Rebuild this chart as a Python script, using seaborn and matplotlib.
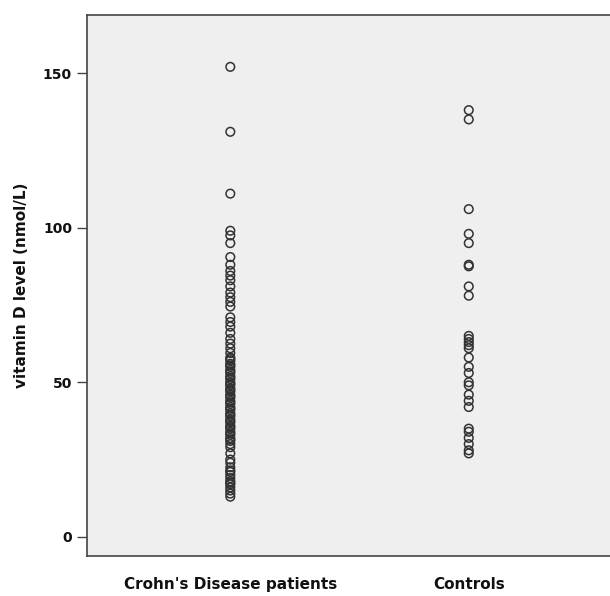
import matplotlib
matplotlib.use("Agg")
import matplotlib.pyplot as plt
import seaborn as sns
import pandas as pd

categories = ["Crohn's Disease patients", "Controls"]

crohns_values = [152, 131, 111, 99, 97.5, 95, 90.5, 88, 86, 84.5, 83, 81, 79, 77.5, 76,
                 74.5, 71, 69.5, 68, 66, 64, 62.5, 61, 59.5, 58, 57.5, 57, 56, 55.5, 55,
                 54, 53.5, 53, 52, 51.5, 51, 50, 49.5, 49, 48, 47.5, 47, 46, 45.5, 45,
                 44, 43.5, 43, 42, 41.5, 41, 40, 39.5, 39, 38, 37.5, 37, 36, 35.5, 35,
                 34, 33.5, 33, 32, 31.5, 31, 30, 29, 27, 25, 24, 22.5, 21.5, 21, 20, 19,
                 18, 17.5, 17, 16, 15, 14, 13]

controls_values = [138, 135, 106, 98, 95, 88, 87.5, 81, 78, 65, 64, 63, 62, 61, 58, 55, 53,
                   50, 49, 46, 44, 42, 35, 34, 32, 30, 28, 27]

y_ticks = [0, 50, 100, 150]
y_label = "vitamin D level (nmol/L)"

df = pd.DataFrame({
    "group": [categories[0]] * len(crohns_values) + [categories[1]] * len(controls_values),
    "value": crohns_values + controls_values,
})

sns.set_style("white")
plt.rcParams["font.family"] = ["DejaVu Sans"]

fig = plt.figure(figsize=(6.10, 5.96), dpi=100)
ax = fig.add_axes([0.143, 0.067, 0.86, 0.908])
ax.set_facecolor("#efefef")

sns.stripplot(data=df, x="group", y="value", order=categories, jitter=False,
              marker="o", size=6.2, linewidth=1.1, color="#333333", ax=ax)
for coll in ax.collections:
    coll.set_facecolor("none")
    coll.set_edgecolor("#333333")
    coll.set_linewidth(1.1)

ax.set_xlim(-0.6, 1.6)
ax.set_ylim(-6.2, 168.8)
ax.set_yticks(y_ticks)
ax.set_yticklabels([str(t) for t in y_ticks], fontsize=10, fontweight="bold", color="#111111")
ax.tick_params(axis="y", direction="out", length=7, width=1, color="#444444", pad=4, left=True)
ax.tick_params(axis="x", length=0, pad=15)
for lbl in ax.get_xticklabels():
    lbl.set_fontsize(11)
    lbl.set_fontweight("bold")
    lbl.set_color("#111111")
ax.set_xlabel("")
ax.set_ylabel(y_label, fontsize=11, fontweight="bold", color="#111111", labelpad=10)

for s in ax.spines.values():
    s.set_color("#444444")
    s.set_linewidth(1.2)

fig.savefig("out.png", dpi=100)
